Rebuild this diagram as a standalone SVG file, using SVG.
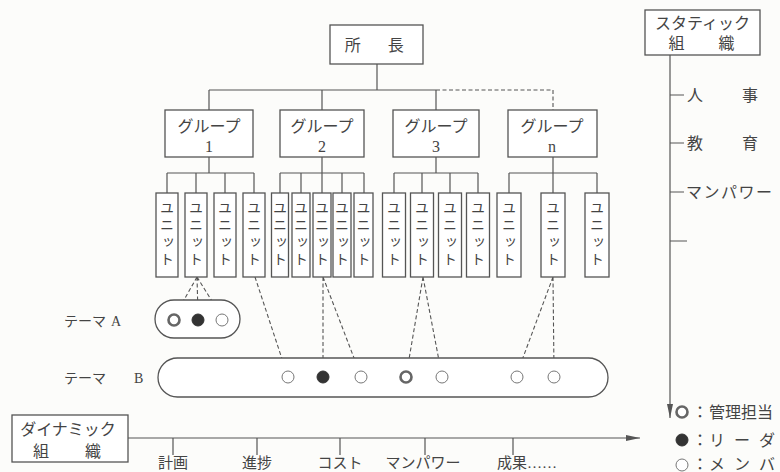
<svg xmlns="http://www.w3.org/2000/svg" width="780" height="472" viewBox="0 0 780 472">
<defs>
<style>
.bx{fill:#fff;stroke:#555;stroke-width:1.3}
.ln{fill:none;stroke:#555;stroke-width:1.2}
.ds{fill:none;stroke:#555;stroke-width:1.1;stroke-dasharray:4 2.5}
.t{font-family:"Liberation Serif","Noto Sans CJK JP",serif;font-size:16px;fill:#444}
.m{text-anchor:middle}
.u{font-family:"Noto Sans CJK JP",sans-serif;font-size:14px;fill:#444;writing-mode:vertical-rl;text-anchor:middle;letter-spacing:3px}
.s{font-size:15px}
.mgr{fill:#fff;stroke:#666;stroke-width:2.6}
.ldr{fill:#333;stroke:#333;stroke-width:1}
.mem{fill:#fff;stroke:#777;stroke-width:1}
</style>
<marker id="ah" viewBox="0 0 14 6" refX="14" refY="3" markerWidth="14" markerHeight="6" markerUnits="userSpaceOnUse" orient="auto">
<path d="M0,0 L14,3 L0,6 Z" fill="#555"/>
</marker>
</defs>
<rect width="780" height="472" fill="#fcfcfa"/>

<g id="connectors">
<path class="ln" d="M377,64 V90 M209,90 H436 M209,90 V110 M322,90 V110 M436,90 V110"/>
<path class="ds" d="M436,90 H553 V110"/>
<path class="ln" d="M209,157 V173 M167,173 H254 M167,173 V193 M196,173 V193 M225,173 V193 M254,173 V193"/>
<path class="ln" d="M322,157 V193 M280,173 H364 M280,173 V193 M301,173 V193 M342,173 V193 M364,173 V193"/>
<path class="ln" d="M436,157 V173 M394,173 H478 M394,173 V193 M422,173 V193 M450,173 V193 M478,173 V193"/>
<path class="ln" d="M553,157 V193 M509,173 H597 M509,173 V193 M597,173 V193"/>
<path class="ds" d="M197,277 L176,314 M197,277 L198,314 M197,277 L220,314"/>
<path class="ds" d="M255,277 L286,371 M323,277 L323,371 M323,277 L359,371 M423,277 L407,371 M423,277 L441,371 M553,277 L518,371 M553,277 L554,371"/>
<line class="ln" x1="670" y1="55" x2="670" y2="418" marker-end="url(#ah)"/>
<path class="ln" d="M670,95 H684 M670,143 H684 M670,192 H684 M670,241 H687"/>
<line class="ln" x1="128" y1="438" x2="640" y2="438" marker-end="url(#ah)"/>
<path class="ln" d="M173,438 V455 M257,438 V455 M340,438 V455 M425,438 V455 M513,438 V455"/>
</g>

<g id="director">
<rect class="bx" x="330" y="25" width="93" height="39"/>
<text class="t m" x="377" y="51" style="letter-spacing:5.5px">所　長</text>
</g>

<g id="group1"><rect class="bx" x="165" y="110" width="88" height="47"/><text class="t m" x="209" y="132">グループ</text><text class="t m" x="209" y="152">1</text></g>
<g id="group2"><rect class="bx" x="280" y="110" width="84" height="47"/><text class="t m" x="322" y="132">グループ</text><text class="t m" x="322" y="152">2</text></g>
<g id="group3"><rect class="bx" x="393" y="110" width="86" height="47"/><text class="t m" x="436" y="132">グループ</text><text class="t m" x="436" y="152">3</text></g>
<g id="groupn"><rect class="bx" x="508" y="110" width="89" height="47"/><text class="t m" x="552" y="132">グループ</text><text class="t m" x="552" y="152">n</text></g>

<g id="unit1-1"><rect class="bx" x="156" y="193" width="22" height="84"/><text class="u" x="167" y="235">ユニット</text></g>
<g id="unit1-2"><rect class="bx" x="185" y="193" width="22" height="84"/><text class="u" x="196" y="235">ユニット</text></g>
<g id="unit1-3"><rect class="bx" x="214" y="193" width="22" height="84"/><text class="u" x="225" y="235">ユニット</text></g>
<g id="unit1-4"><rect class="bx" x="243" y="193" width="22" height="84"/><text class="u" x="254" y="235">ユニット</text></g>
<g id="unit2-1"><rect class="bx" x="271.5" y="193" width="17" height="84"/><text class="u" x="280" y="235">ユニット</text></g>
<g id="unit2-2"><rect class="bx" x="292" y="193" width="18" height="84"/><text class="u" x="301" y="235">ユニット</text></g>
<g id="unit2-3"><rect class="bx" x="313" y="193" width="18" height="84"/><text class="u" x="322" y="235">ユニット</text></g>
<g id="unit2-4"><rect class="bx" x="333" y="193" width="18" height="84"/><text class="u" x="342" y="235">ユニット</text></g>
<g id="unit2-5"><rect class="bx" x="354" y="193" width="19" height="84"/><text class="u" x="363.5" y="235">ユニット</text></g>
<g id="unit3-1"><rect class="bx" x="382.5" y="193" width="23" height="84"/><text class="u" x="394" y="235">ユニット</text></g>
<g id="unit3-2"><rect class="bx" x="410.5" y="193" width="23" height="84"/><text class="u" x="422" y="235">ユニット</text></g>
<g id="unit3-3"><rect class="bx" x="438.5" y="193" width="23" height="84"/><text class="u" x="450" y="235">ユニット</text></g>
<g id="unit3-4"><rect class="bx" x="466.5" y="193" width="23" height="84"/><text class="u" x="478" y="235">ユニット</text></g>
<g id="unitn-1"><rect class="bx" x="497" y="193" width="24" height="84"/><text class="u" x="509" y="235">ユニット</text></g>
<g id="unitn-2"><rect class="bx" x="541" y="193" width="24" height="84"/><text class="u" x="553" y="235">ユニット</text></g>
<g id="unitn-3"><rect class="bx" x="585" y="193" width="24" height="84"/><text class="u" x="597" y="235">ユニット</text></g>

<g id="themeA">
<text class="t" x="64" y="326" style="font-size:14px">テーマ<tspan x="111">A</tspan></text>
<rect class="bx" x="155" y="300" width="85" height="38" rx="19"/>
<circle class="mgr" cx="174" cy="320" r="5.5"/>
<circle class="ldr" cx="198" cy="320" r="6"/>
<circle class="mem" cx="222" cy="320" r="6"/>
</g>

<g id="themeB">
<text class="t" x="64" y="383" style="font-size:14px">テーマ<tspan x="134">B</tspan></text>
<rect class="bx" x="158" y="358" width="450" height="39" rx="19.5"/>
<circle class="mem" cx="288" cy="377" r="6"/>
<circle class="ldr" cx="323" cy="377" r="6"/>
<circle class="mem" cx="361" cy="377" r="6"/>
<circle class="mgr" cx="406" cy="377" r="5.5"/>
<circle class="mem" cx="442" cy="377" r="6"/>
<circle class="mem" cx="517" cy="377" r="6"/>
<circle class="mem" cx="554" cy="377" r="6"/>
</g>

<g id="static">
<rect class="bx" x="645" y="10" width="115" height="45"/>
<text class="t m" x="702.5" y="29">スタティック</text>
<text class="t m" x="706" y="49" style="letter-spacing:9px">組　織</text>
<text class="t" x="687" y="101" style="letter-spacing:11.5px">人　事</text>
<text class="t" x="687" y="149" style="letter-spacing:11.5px">教　育</text>
<text class="t" x="686" y="198" style="letter-spacing:1.5px">マンパワー</text>
</g>

<g id="dynamic">
<rect class="bx" x="12" y="415" width="116" height="47"/>
<text class="t m" x="68" y="435">ダイナミック</text>
<text class="t m" x="72" y="457" style="letter-spacing:10px">組　織</text>
<text class="t s m" x="173" y="468">計画</text>
<text class="t s m" x="257" y="468">進捗</text>
<text class="t s m" x="340" y="468">コスト</text>
<text class="t s m" x="423" y="468">マンパワー</text>
<text class="t s" x="497" y="468">成果……</text>
</g>

<g id="legend">
<circle class="mgr" cx="682" cy="412" r="5.5"/>
<text class="t" x="692" y="418">：<tspan x="709">管理担当</tspan></text>
<circle class="ldr" cx="682" cy="440" r="6"/>
<text class="t" x="692" y="446">：<tspan x="709">リ</tspan><tspan x="734">ー</tspan><tspan x="759">ダ</tspan></text>
<circle class="mem" cx="682" cy="465" r="6"/>
<text class="t" x="692" y="470">：<tspan x="709">メ</tspan><tspan x="734">ン</tspan><tspan x="759">バ</tspan></text>
</g>
</svg>
